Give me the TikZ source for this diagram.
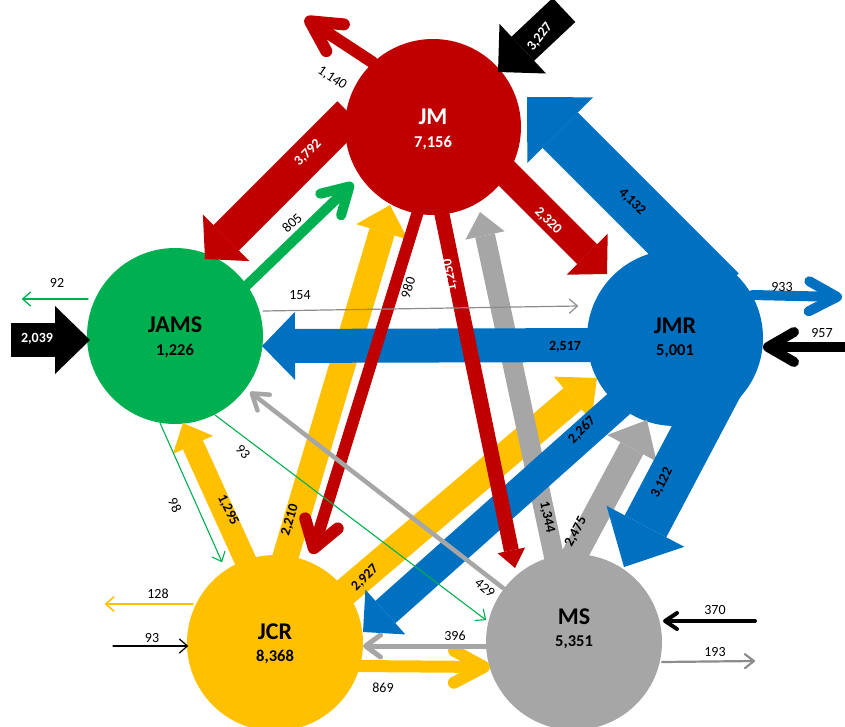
\documentclass[tikz,border=0pt]{standalone}
\usepackage{fontspec}
\setmainfont{Carlito}
\usetikzlibrary{arrows.meta}
\definecolor{cred}{HTML}{C00000}
\definecolor{cgreen}{HTML}{00B050}
\definecolor{cblue}{HTML}{0070C0}
\definecolor{cyellow}{HTML}{FFC000}
\definecolor{cgray}{HTML}{A6A6A6}
\definecolor{cthin}{HTML}{8C8C8C}
\tikzset{
  circ/.style={circle, minimum size=176pt, inner sep=0pt, fill=#1},
  nname/.style={font=\fontsize{24}{26}\selectfont\bfseries, inner sep=0pt},
  nval/.style={font=\fontsize{16.5}{18}\selectfont\bfseries, inner sep=0pt},
  lab/.style={font=\fontsize{14}{16}\selectfont, inner sep=0pt},
  blab/.style={font=\fontsize{14}{16}\selectfont\bfseries, inner sep=0pt},
  blockarr/.style n args={4}{draw=#1, line width=#2pt, line cap=butt,
    -{Triangle[width=#3pt,length=#4pt,line width=0pt,fill=#1]}},
  chevarr/.style n args={4}{draw=#1, line width=#2pt, line cap=round,
    -{Straight Barb[round,width=#3pt,length=#4pt]}},
}
\begin{document}
\begin{tikzpicture}[x=1pt,y=-1pt]
\useasboundingbox (0,0) rectangle (845,726);
% circles
\node[circ=cred] (JM) at (433,127) {};
\node[circ=cgreen] (JAMS) at (175,336) {};
\node[circ=cblue] (JMR) at (675,338) {};
\node[circ=cyellow] (JCR) at (275,643) {};
\node[circ=cgray] (MS) at (574,642) {};
% coordinates
\coordinate (r1s) at (372,62);  \coordinate (r1e) at (305,18);
\coordinate (r2s) at (350,114); \coordinate (r2e) at (205,259);
\coordinate (r3s) at (501,168); \coordinate (r3e) at (607,274);
\coordinate (r4s) at (420,205); \coordinate (r4e) at (312,554);
\coordinate (r5s) at (440,205); \coordinate (r5e) at (515,568);
\coordinate (k1s) at (564,10);  \coordinate (k1e) at (498,72);
\coordinate (k2s) at (11,340);  \coordinate (k2e) at (90,340);
\coordinate (k3s) at (845,347); \coordinate (k3e) at (763,347);
\coordinate (k4s) at (755,621); \coordinate (k4e) at (663,621);
\coordinate (k5s) at (113,646); \coordinate (k5e) at (188,646);
\coordinate (g1s) at (88,299);  \coordinate (g1e) at (22,299);
\coordinate (g2s) at (243,289); \coordinate (g2e) at (353,183);
\coordinate (g3s) at (215,415); \coordinate (g3e) at (486,620);
\coordinate (g4s) at (160,423); \coordinate (g4e) at (222,562);
\coordinate (t1s) at (263,311); \coordinate (t1e) at (578,306);
\coordinate (b1s) at (752,295); \coordinate (b1e) at (842,297);
\coordinate (b2s) at (721,291); \coordinate (b2e) at (527,97);
\coordinate (b3s) at (610,345); \coordinate (b3e) at (262,346);
\coordinate (b4s) at (640,385); \coordinate (b4e) at (363,632);
\coordinate (b5s) at (739,349); \coordinate (b5e) at (624,567);
\coordinate (m1s) at (662,662); \coordinate (m1e) at (755,661);
\coordinate (m2s) at (487,646); \coordinate (m2e) at (363,646);
\coordinate (m3s) at (503,588); \coordinate (m3e) at (250,392);
\coordinate (m4s) at (556,566); \coordinate (m4e) at (480,212);
\coordinate (m5s) at (566,571); \coordinate (m5e) at (647,420);
\coordinate (y1s) at (193,604); \coordinate (y1e) at (105,604);
\coordinate (y2s) at (355,666); \coordinate (y2e) at (490,667);
\coordinate (y3s) at (252,575); \coordinate (y3e) at (183,423);
\coordinate (y4s) at (283,565); \coordinate (y4e) at (390,205);
\coordinate (y5s) at (330,605); \coordinate (y5e) at (597,378);
% yellow block arrows
\draw[blockarr={cyellow}{22}{44}{24}] (y3s) -- (y3e);
\draw[blockarr={cyellow}{26}{54}{28}] (y4s) -- (y4e);
\draw[blockarr={cyellow}{28}{58}{32}] (y5s) -- (y5e);
% gray block arrows
\draw[blockarr={cgray}{20}{40}{24}] (m4s) -- (m4e);
\draw[blockarr={cgray}{26}{56}{32}] (m5s) -- (m5e);
% blue block arrows
\draw[blockarr={cblue}{50}{93}{47}] (b2s) -- (b2e);
\draw[blockarr={cblue}{47}{88}{46}] (b5s) -- (b5e);
\draw[blockarr={cblue}{34}{68}{33}] (b3s) -- (b3e);
\draw[blockarr={cblue}{30}{60}{30}] (b4s) -- (b4e);
% red arrows
\draw[blockarr={cred}{36}{66}{30}] (r2s) -- (r2e);
\draw[blockarr={cred}{28}{58}{28}] (r3s) -- (r3e);
\draw[blockarr={cred}{15}{28}{18}] (r5s) -- (r5e);
\draw[chevarr={cred}{12}{34}{26}] (r4s) -- (r4e);
\draw[chevarr={cred}{12}{32}{30}] (r1s) -- (r1e);
% green
\draw[chevarr={cgreen}{10}{30}{26}] (g2s) -- (g2e);
\draw[chevarr={cgreen}{1.3}{14}{8}] (g1s) -- (g1e);
\draw[chevarr={cgreen}{1.1}{14}{8}] (g3s) -- (g3e);
\draw[chevarr={cgreen}{1.1}{14}{8}] (g4s) -- (g4e);
% other outgoing / thin
\draw[chevarr={cblue}{10}{30}{28}] (b1s) -- (b1e);
\draw[chevarr={cyellow}{12}{32}{30}] (y2s) -- (y2e);
\draw[chevarr={cyellow}{1.6}{14}{8}] (y1s) -- (y1e);
\draw[chevarr={cgray}{5}{22}{15}] (m2s) -- (m2e);
\draw[chevarr={cgray}{4.5}{20}{15}] (m3s) -- (m3e);
\draw[chevarr={cthin}{2.2}{14}{9}] (m1s) -- (m1e);
\draw[chevarr={cthin}{1.2}{14}{8}] (t1s) -- (t1e);
% black
\draw[blockarr={black}{33}{68}{34}] (k1s) -- (k1e);
\draw[blockarr={black}{34}{68}{35}] (k2s) -- (k2e);
\draw[chevarr={black}{10}{30}{26}] (k3s) -- (k3e);
\draw[chevarr={black}{4}{16}{12}] (k4s) -- (k4e);
\draw[chevarr={black}{1.2}{14}{8}] (k5s) -- (k5e);
% node texts
\node[nname, text=white] (tJM) at (433,117) {JM};
\node[nval, text=white] (vJM) at (433,143) {7,156};
\node[nname] (tJAMS) at (175,325) {JAMS};
\node[nval] (vJAMS) at (175,351) {1,226};
\node[nname] (tJMR) at (675,326) {JMR};
\node[nval] (vJMR) at (675,351) {5,001};
\node[nname] (tJCR) at (275,632) {JCR};
\node[nval] (vJCR) at (275,657) {8,368};
\node[nname] (tMS) at (574,617) {MS};
\node[nval] (vMS) at (574,642) {5,351};
% flow labels
\node[lab, rotate=-34] (l1140) at (332,78) {1,140};
\node[blab, text=white, rotate=45] (l3792) at (308,153) {3,792};
\node[blab, text=white, rotate=-45] (l2320) at (548,221) {2,320};
\node[blab, text=white, rotate=52] (l3227) at (540,37) {3,227};
\node[blab, rotate=-45] (l4132) at (632,202) {4,132};
\node[lab, rotate=43] (l805) at (292,223) {805};
\node[lab, rotate=73] (l980) at (408,288) {980};
\node[blab, text=white, rotate=100] (l1250) at (450,275) {1,250};
\node[lab] (l154) at (300,295) {154};
\node[lab] (l92) at (57,283) {92};
\node[blab, text=white] (l2039) at (37,339) {2,039};
\node[blab] (l2517) at (565,347) {2,517};
\node[lab] (l933) at (782,287) {933};
\node[lab] (l957) at (822,333) {957};
\node[blab, rotate=45] (l2267) at (582,430) {2,267};
\node[blab, rotate=63] (l3122) at (662,483) {3,122};
\node[blab, rotate=-78] (l1344) at (547,517) {1,344};
\node[blab, rotate=62] (l2475) at (576,532) {2,475};
\node[lab, rotate=-40] (l429) at (485,588) {429};
\node[lab] (l370) at (715,610) {370};
\node[lab] (l193) at (715,652) {193};
\node[lab] (l396) at (455,636) {396};
\node[lab] (l869) at (383,688) {869};
\node[lab] (l128) at (158,594) {128};
\node[lab] (l93a) at (152,638) {93};
\node[lab, rotate=-65] (l98) at (175,505) {98};
\node[lab, rotate=-50] (l93b) at (243,452) {93};
\node[blab, rotate=-64] (l1295) at (228,510) {1,295};
\node[blab, rotate=73] (l2210) at (290,520) {2,210};
\node[blab, rotate=45] (l2927) at (365,578) {2,927};
\end{tikzpicture}
\end{document}
